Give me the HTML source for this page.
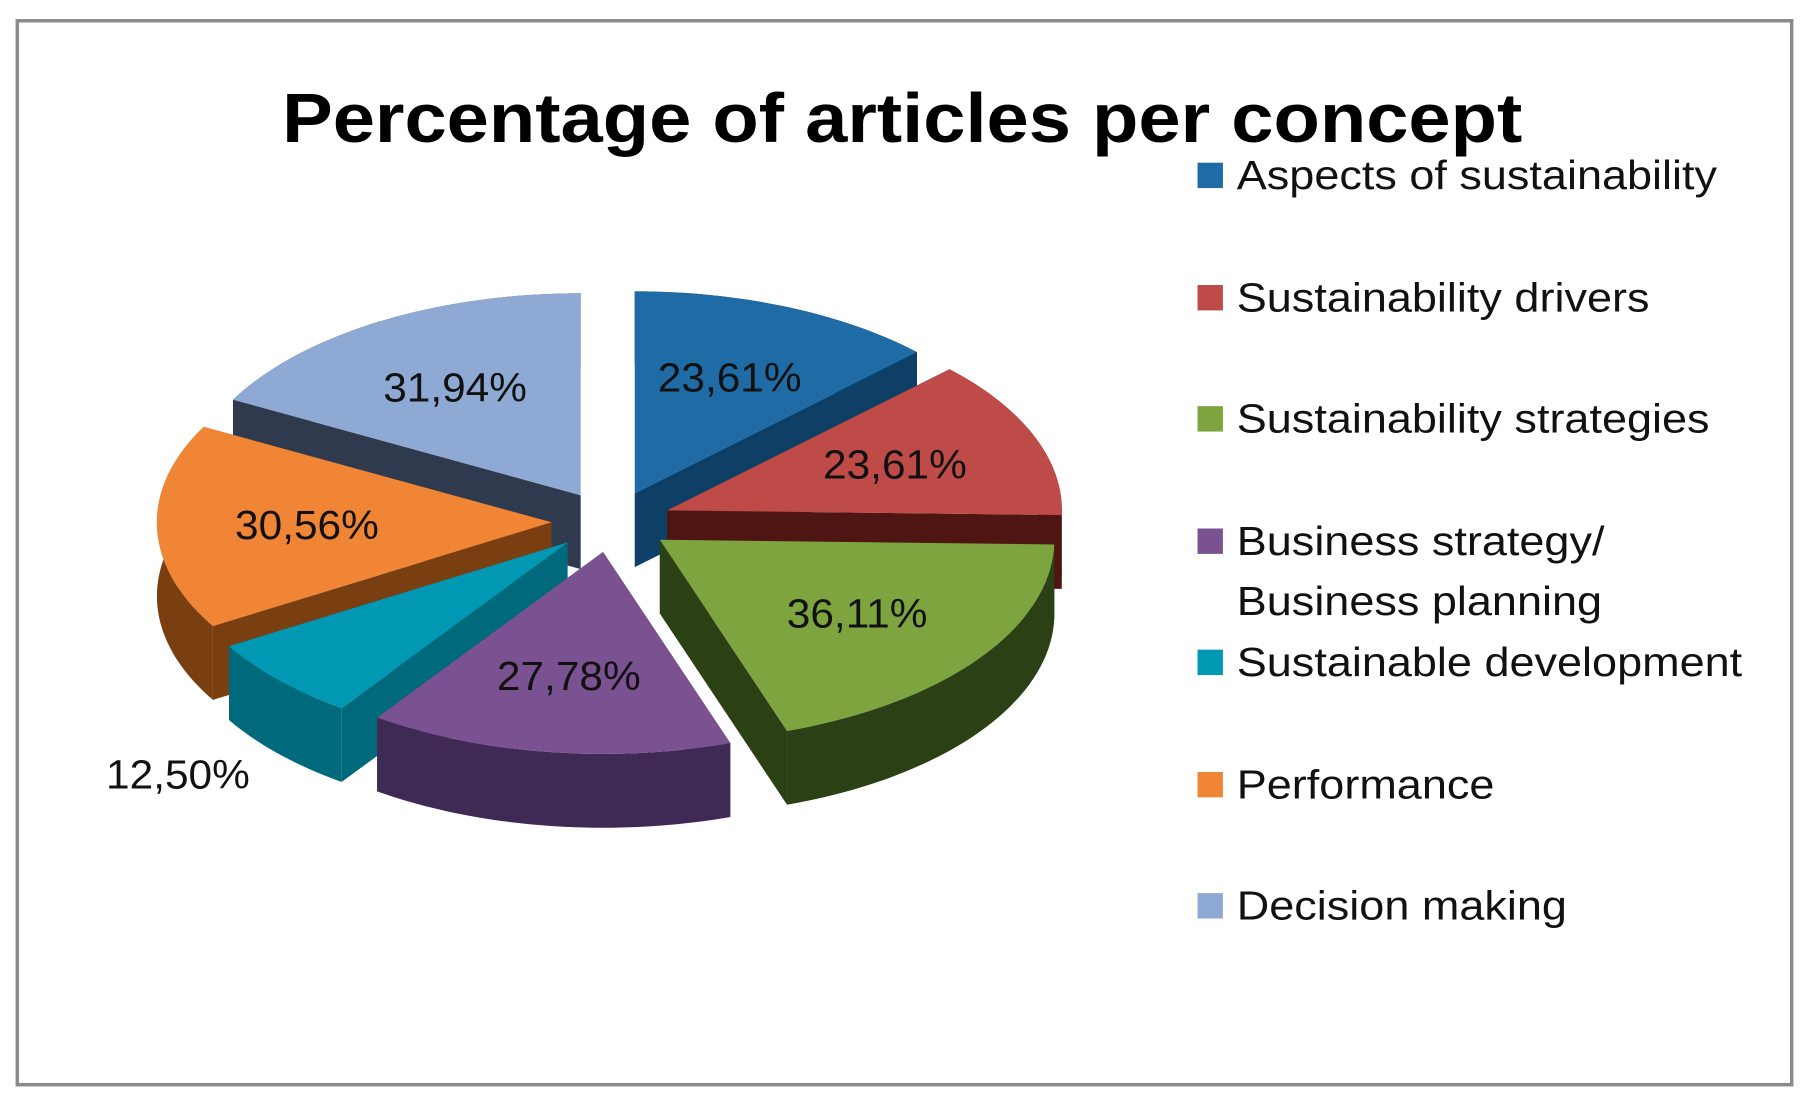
<!DOCTYPE html>
<html><head><meta charset="utf-8"><style>
html,body{margin:0;padding:0;background:#fff}
svg{display:block}
text{font-family:"Liberation Sans",sans-serif}
</style></head><body>
<svg id="chart" width="1809" height="1102" viewBox="0 0 1568 955" preserveAspectRatio="none" xmlns="http://www.w3.org/2000/svg">
<rect x="15" y="18" width="1538" height="922" fill="#fff" stroke="#8a8a8a" stroke-width="3"/>
<text x="782" y="123" text-anchor="middle" font-size="60" font-weight="bold" textLength="1075" lengthAdjust="spacingAndGlyphs">Percentage of articles per concept</text>
<g id="slices"></g>
<g id="labels"></g>
<g id="legend"></g>
</svg>
<script>
const categories = ["Aspects of sustainability","Sustainability drivers","Sustainability strategies","Business strategy/ Business planning","Sustainable development","Performance","Decision making"];
const values = [23.61, 23.61, 36.11, 27.78, 12.50, 30.56, 31.94];
const valueLabels = ["23,61%","23,61%","36,11%","27,78%","12,50%","30,56%","31,94%"];
const topColors = ["#1F6BA5","#BE4B48","#7EA440","#7A5291","#0098B3","#F08535","#8EAAD4"];
const sideColors = ["#0E3F66","#4F1513","#2C4016","#3E2A55","#006A7C","#7A3F10","#2F3A4E"];

const NS="http://www.w3.org/2000/svg";
const cx=530, cy=452, rx=342, ry=175, depth=64, ex=52;
const total=values.reduce((a,b)=>a+b,0);
function pt(th,ox,oy,dz){return [cx+ox+rx*Math.sin(th), cy+oy-ry*Math.cos(th)+(dz||0)];}
function mk(tag,attrs){const e=document.createElementNS(NS,tag);for(const k in attrs)e.setAttribute(k,attrs[k]);return e;}
const slicesG=document.getElementById('slices');
const labelsG=document.getElementById('labels');
let a=0;const sl=[];
values.forEach((v,i)=>{const a0=a,a1=a+v/total*2*Math.PI;a=a1;sl.push({i,a0,a1,m:(a0+a1)/2});});
sl.forEach(s=>{s.ox=ex*Math.sin(s.m);s.oy=-ex*Math.cos(s.m)*ry/rx;});
function arcPts(s,dz){const p=[];const n=40;for(let k=0;k<=n;k++){p.push(pt(s.a0+(s.a1-s.a0)*k/n,s.ox,s.oy,dz));}return p;}
const order=sl.slice().sort((p,q)=>(-Math.cos(p.m))-(-Math.cos(q.m)));
order.forEach(s=>{
  const g=mk('g',{});
  
  
  const c0=[cx+s.ox,cy+s.oy];
  [s.a0,s.a1].forEach(th=>{const e=pt(th,s.ox,s.oy);
    const f=mk('polygon',{points:[c0,e,[e[0],e[1]+depth],[c0[0],c0[1]+depth]].map(p=>p.join(',')).join(' '),fill:sideColors[s.i]});
    
    
    g.appendChild(f);});
  const top=arcPts(s,0),bot=arcPts(s,depth).reverse();
  const w=mk('polygon',{points:top.concat(bot).map(p=>p.join(',')).join(' '),fill:sideColors[s.i]});
  
  
  g.appendChild(w);
  const t=mk('polygon',{points:[c0].concat(top).map(p=>p.join(',')).join(' '),fill:topColors[s.i]});
  
  
  g.appendChild(t);
  slicesG.appendChild(g);
});
sl.forEach(s=>{
  const small=values[s.i]/total<0.08;
  const f=small?1.35:0.62;
  const x=cx+s.ox+rx*f*Math.sin(s.m), y=cy+s.oy-ry*f*Math.cos(s.m)+12+(small?40:0);
  const t=mk('text',{x:0,y:0,'text-anchor':'middle','font-size':35,fill:'#111',transform:'translate('+x+','+y+') scale(1.05,1)'});
  t.textContent=valueLabels[s.i];
  
  
  labelsG.appendChild(t);
});
const legendG=document.getElementById('legend');
const ly=[152,258,363,469,574,680,785];
categories.forEach((c,i)=>{
  const g=mk('g',{});
  
  
  const r=mk('rect',{x:1038,y:ly[i]-11,width:22,height:22,fill:topColors[i]});
  
  
  g.appendChild(r);
  const parts=c.indexOf('/ ')>0?[c.split('/ ')[0]+'/',c.split('/ ')[1]]:[c];
  parts.forEach((p,k)=>{const t=mk('text',{x:0,y:0,'font-size':35,fill:'#111',transform:'translate(1072,'+(ly[i]+12+k*52)+') scale(1.115,1)'});t.textContent=p;
    
    
    g.appendChild(t);});
  legendG.appendChild(g);
});
</script>
</body></html>
